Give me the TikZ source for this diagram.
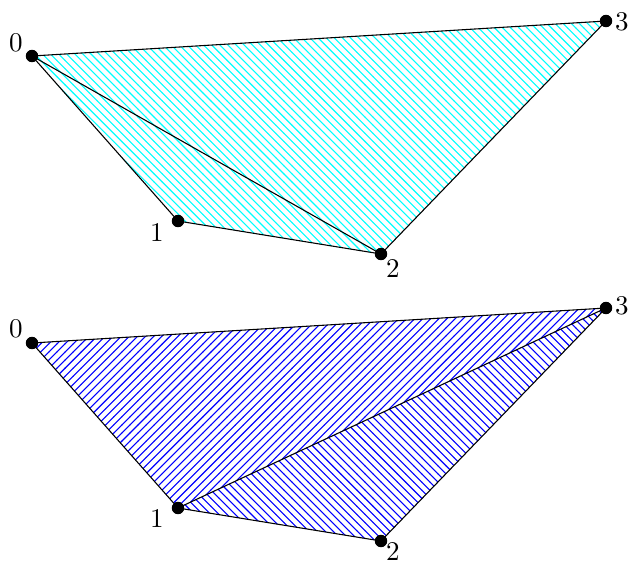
\documentclass[tikz,border=0pt]{standalone}
\usetikzlibrary{patterns}
\begin{document}
\begin{tikzpicture}[x=0.37pt,y=-0.37pt,
  dot/.style={circle,fill=black,inner sep=0pt,minimum size=4.6pt},
  lbl/.style={inner sep=0pt,font=\normalsize},
  edge/.style={draw=black,line width=0.4pt,line join=round}]
\useasboundingbox (0,0) rectangle (630,563);
% top
\coordinate (a0) at (32,56);
\coordinate (a1) at (178,221);
\coordinate (a2) at (381,254);
\coordinate (a3) at (606,21);
\path[pattern=north west lines,pattern color=cyan] (a0) -- (a1) -- (a2) -- cycle;
\path[pattern=north west lines,pattern color=cyan] (a0) -- (a2) -- (a3) -- cycle;
\draw[edge] (a0) -- (a1) -- (a2) -- (a3) -- cycle;
\draw[edge] (a0) -- (a2);
\node[dot] (d0) at (a0) {};
\node[dot] (d1) at (a1) {};
\node[dot] (d2) at (a2) {};
\node[dot] (d3) at (a3) {};
\node[lbl] (l0) at (16,43) {0};
\node[lbl] (l1) at (157,232) {1};
\node[lbl] (l2) at (393,268) {2};
\node[lbl] (l3) at (622,22) {3};
% bottom
\coordinate (b0) at (32,343);
\coordinate (b1) at (178,508);
\coordinate (b2) at (381,541);
\coordinate (b3) at (606,308);
\path[pattern=north east lines,pattern color=blue] (b0) -- (b1) -- (b3) -- cycle;
\path[pattern=north west lines,pattern color=blue] (b1) -- (b2) -- (b3) -- cycle;
\draw[edge] (b0) -- (b1) -- (b2) -- (b3) -- cycle;
\draw[edge] (b1) -- (b3);
\node[dot] (e0) at (b0) {};
\node[dot] (e1) at (b1) {};
\node[dot] (e2) at (b2) {};
\node[dot] (e3) at (b3) {};
\node[lbl] (m0) at (16,329) {0};
\node[lbl] (m1) at (157,518) {1};
\node[lbl] (m2) at (393,552) {2};
\node[lbl] (m3) at (622,306) {3};
\end{tikzpicture}
\end{document}
